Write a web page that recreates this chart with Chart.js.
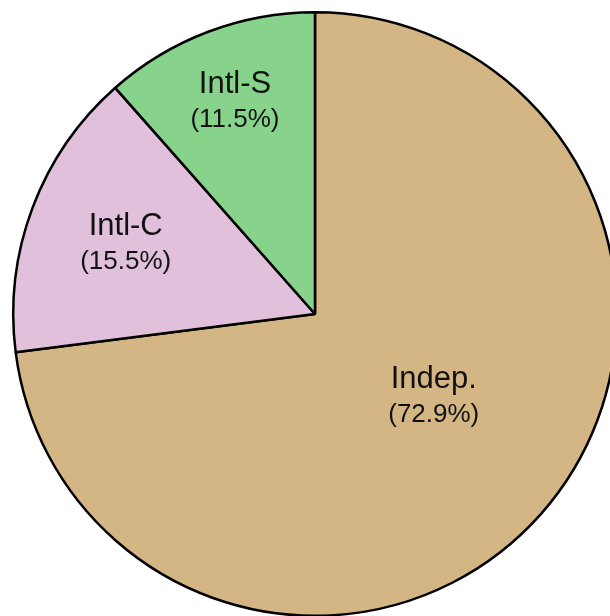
<!DOCTYPE html>
<html>
<head>
<meta charset="utf-8">
<script src="https://cdn.jsdelivr.net/npm/chart.js@4/dist/chart.umd.min.js"></script>
<style>
  html, body { margin: 0; padding: 0; background: #fff; overflow: hidden; }
  #wrap { position: absolute; left: 0; top: -1px; width: 630px; height: 630px; }
</style>
</head>
<body>
<div id="wrap"><canvas id="pie" width="630" height="630"></canvas></div>
<script>
// data
const labels = ["Indep.", "Intl-C", "Intl-S"];
const shares = [72.9, 15.5, 11.5];
const colors = ["#D3B683", "#E0C0DB", "#88D38B"];

// label anchor: fraction of radius along the bisector, plus a small turn (degrees)
const labelDist = [0.479, 0.669, 0.753];
const labelTurn = [-6.6, -0.3, 0.1];

const sliceLabels = {
  id: "sliceLabels",
  afterDatasetsDraw(chart) {
    const ctx = chart.ctx;
    const arcs = chart.getDatasetMeta(0).data;
    ctx.save();
    ctx.fillStyle = "#111";
    ctx.textAlign = "center";
    ctx.textBaseline = "middle";
    arcs.forEach((arc, i) => {
      const mid = (arc.startAngle + arc.endAngle) / 2 + labelTurn[i] * Math.PI / 180;
      const r = arc.outerRadius * labelDist[i];
      const x = arc.x + Math.cos(mid) * r;
      const y = arc.y + Math.sin(mid) * r;
      ctx.font = "31px 'Liberation Sans', Arial, sans-serif";
      ctx.fillText(labels[i], x, y - 17);
      ctx.font = "26px 'Liberation Sans', Arial, sans-serif";
      ctx.fillText("(" + shares[i].toFixed(1) + "%)", x, y + 18);
    });
    ctx.restore();
  }
};

new Chart(document.getElementById("pie"), {
  type: "pie",
  data: {
    labels: labels,
    datasets: [{
      data: shares,
      backgroundColor: colors,
      borderColor: "#000",
      borderWidth: 2.5,
      borderAlign: "center"
    }]
  },
  options: {
    responsive: false,
    animation: false,
    layout: { padding: 12 },
    plugins: {
      legend: { display: false },
      tooltip: { enabled: false }
    }
  },
  plugins: [sliceLabels]
});
</script>
</body>
</html>
